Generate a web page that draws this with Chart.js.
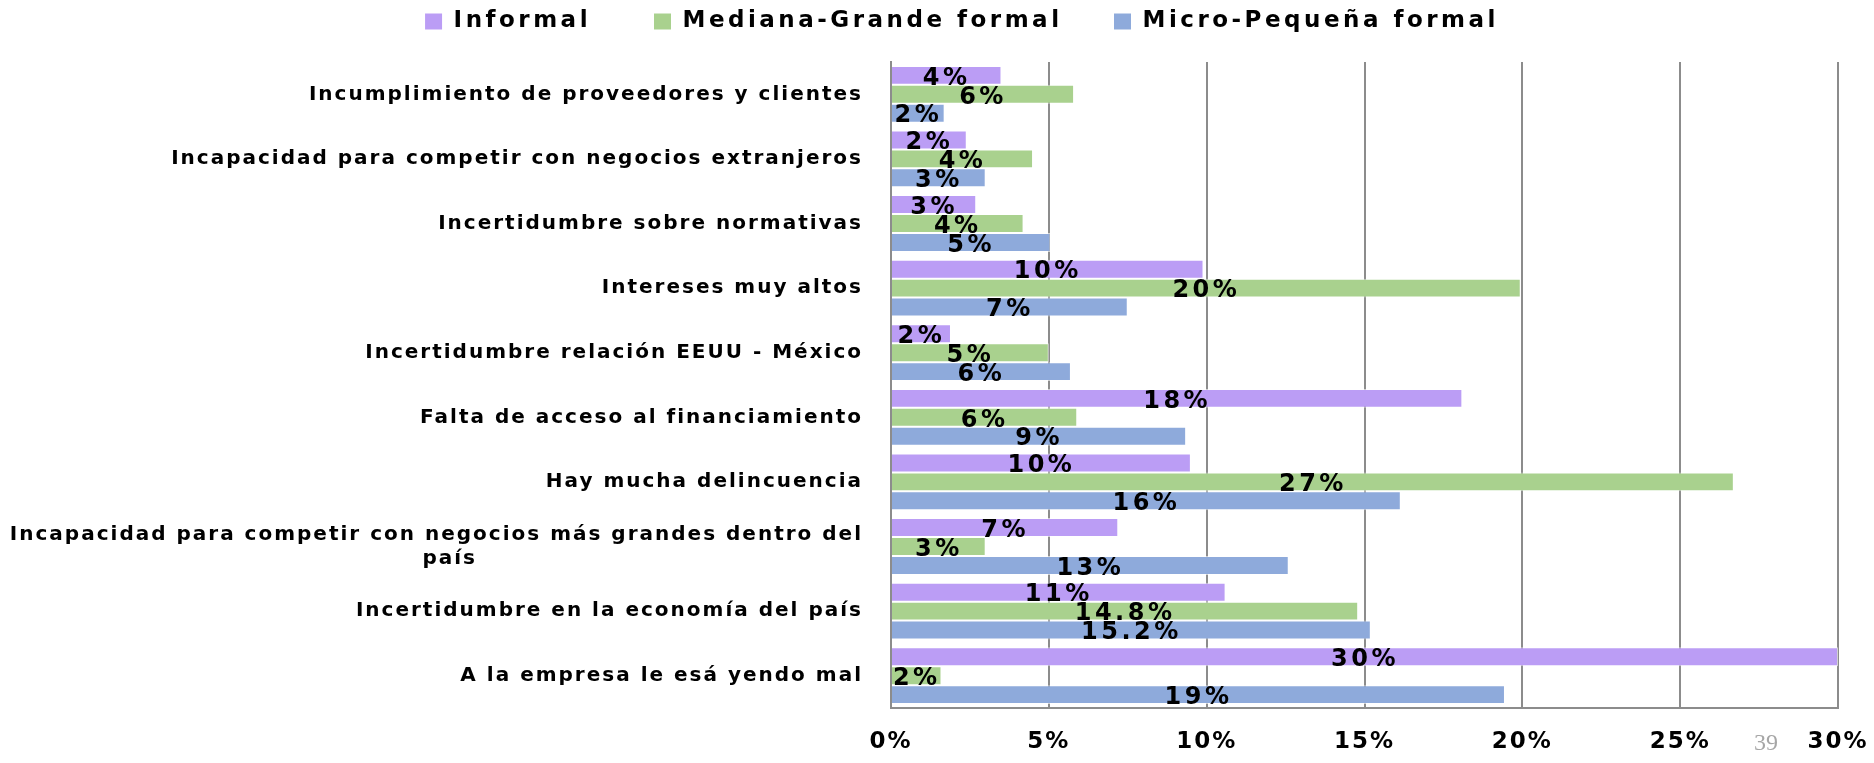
<!DOCTYPE html>
<html lang="es">
<head>
<meta charset="utf-8">
<title>Problemas de las empresas</title>
<script src="https://cdn.jsdelivr.net/npm/chart.js@4.4.1/dist/chart.umd.min.js"></script>
<style>
  html, body { margin: 0; padding: 0; background: #fff; }
  #contenedor { position: relative; width: 1874px; height: 763px; }
  #pagina { position: absolute; left: 1754px; top: 730px; font: 24px 'Liberation Serif', serif; color: #a6a6a6; line-height: 24px; }
</style>
</head>
<body>
<div id="contenedor">
  <canvas id="grafica" width="1874" height="763"></canvas>
  <div id="pagina">39</div>
</div>
<script>
// Categorías (de arriba hacia abajo)
const categorias = [
    'Incumplimiento de proveedores y clientes',
    'Incapacidad para competir con negocios extranjeros',
    'Incertidumbre sobre normativas',
    'Intereses muy altos',
    'Incertidumbre relación EEUU - México',
    'Falta de acceso al financiamiento',
    'Hay mucha delincuencia',
    ['Incapacidad para competir con negocios más grandes dentro del', 'país' + '\u2003'.repeat(17) + '\u2002'],
    'Incertidumbre en la economía del país',
    'A la empresa le esá yendo mal'
];

// Valores (%)
const informal = [3.5, 2.4, 2.7, 9.9, 1.9, 18.1, 9.5, 7.2, 10.6, 30];
const medianaGrande = [5.8, 4.5, 4.2, 19.95, 5.0, 5.9, 26.7, 3.0, 14.8, 1.6];
const microPequena = [1.7, 3.0, 5.05, 7.5, 5.7, 9.35, 16.15, 12.6, 15.2, 19.45];

// Etiquetas que muestra cada barra
const etiquetasInformal = ['4%', '2%', '3%', '10%', '2%', '18%', '10%', '7%', '11%', '30%'];
const etiquetasMediana = ['6%', '4%', '4%', '20%', '5%', '6%', '27%', '3%', '14.8%', '2%'];
const etiquetasMicro = ['2%', '3%', '5%', '7%', '6%', '9%', '16%', '13%', '15.2%', '19%'];

// Marcas del eje x
const ticksX = [0, 5, 10, 15, 20, 25, 30];

const fuente = 'DejaVu Sans';
const espaciadoLetras = '2px';

// Espaciado entre letras (el original usa un texto muy ancho)
const espaciado = {
    id: 'espaciado',
    beforeUpdate(chart) { chart.ctx.letterSpacing = espaciadoLetras; },
    beforeLayout(chart) { chart.ctx.letterSpacing = espaciadoLetras; },
    beforeDraw(chart) { chart.ctx.letterSpacing = espaciadoLetras; }
};

// Leyenda: más espacio entre letras, altura fija y un poco desplazada a la derecha
const ajusteLeyenda = {
    id: 'ajusteLeyenda',
    beforeInit(chart) {
        const leyenda = chart.legend;
        const fitOriginal = leyenda.fit;
        const drawOriginal = leyenda.draw;
        leyenda.fit = function() {
            const c = this.ctx;
            const antes = c.letterSpacing;
            c.letterSpacing = '3.5px';
            fitOriginal.apply(this, arguments);
            c.letterSpacing = antes;
            this.height = 62;
        };
        leyenda.draw = function() {
            const c = this.ctx;
            const antes = c.letterSpacing;
            const izq = this.left;
            c.letterSpacing = '3.5px';
            this.left = izq + 86;
            drawOriginal.apply(this, arguments);
            this.left = izq;
            c.letterSpacing = antes;
        };
    }
};

// Etiquetas de datos centradas en cada barra
const etiquetasBarras = {
    id: 'etiquetasBarras',
    afterDatasetsDraw(chart) {
        const ctx = chart.ctx;
        ctx.save();
        ctx.letterSpacing = '3.5px';
        ctx.font = 'bold 24px "' + fuente + '"';
        ctx.fillStyle = '#000';
        ctx.textAlign = 'center';
        ctx.textBaseline = 'middle';
        chart.data.datasets.forEach((ds, i) => {
            chart.getDatasetMeta(i).data.forEach((bar, j) => {
                const x = (bar.base + bar.x) / 2;
                ctx.fillText(ds.etiquetas[j], x, bar.y + 3);
            });
        });
        ctx.restore();
    }
};

const sufijosLeyenda = ['\u2003\u2003', '\u2003\u2002', ''];

const ctx = document.getElementById('grafica').getContext('2d');
new Chart(ctx, {
    type: 'bar',
    data: {
        labels: categorias,
        datasets: [
            {
                label: 'Informal',
                data: informal,
                etiquetas: etiquetasInformal,
                backgroundColor: '#bb9df5',
                borderColor: 'rgba(255,255,255,0.6)',
                borderWidth: 1
            },
            {
                label: 'Mediana-Grande formal',
                data: medianaGrande,
                etiquetas: etiquetasMediana,
                backgroundColor: '#a9d18e',
                borderColor: 'rgba(255,255,255,0.6)',
                borderWidth: 1
            },
            {
                label: 'Micro-Pequeña formal',
                data: microPequena,
                etiquetas: etiquetasMicro,
                backgroundColor: '#8eaadb',
                borderColor: 'rgba(255,255,255,0.6)',
                borderWidth: 1
            }
        ]
    },
    options: {
        indexAxis: 'y',
        responsive: false,
        animation: false,
        categoryPercentage: 0.88,
        barPercentage: 1.0,
        layout: {
            padding: { left: 0, right: 36, top: 0, bottom: 0 }
        },
        plugins: {
            legend: {
                position: 'top',
                labels: {
                    color: '#000',
                    font: { family: fuente, size: 23, weight: 'bold' },
                    boxWidth: 17,
                    boxHeight: 16,
                    padding: 10,
                    generateLabels(chart) {
                        const items = Chart.defaults.plugins.legend.labels.generateLabels(chart);
                        items.forEach((it, i) => {
                            it.text += sufijosLeyenda[i];
                            it.lineWidth = 0;
                        });
                        return items;
                    }
                }
            },
            tooltip: { enabled: false }
        },
        scales: {
            x: {
                min: 0,
                max: 30,
                afterBuildTicks(scale) {
                    scale.ticks = ticksX.map(v => ({ value: v }));
                },
                afterFit(scale) {
                    scale.height = 55;
                    scale.paddingRight = 36;
                },
                ticks: {
                    color: '#000',
                    font: { family: fuente, size: 23, weight: 'bold' },
                    padding: 20,
                    maxRotation: 0,
                    callback: v => v + '%'
                },
                grid: { color: '#8c8c8c', lineWidth: 2, drawTicks: false },
                border: { color: '#8c8c8c', width: 2 }
            },
            y: {
                afterFit(scale) {
                    scale.width = 891;
                    scale.paddingTop = 0;
                    scale.paddingBottom = 0;
                },
                ticks: {
                    color: '#000',
                    font: { family: fuente, size: 20, weight: 'bold' },
                    padding: 28
                },
                grid: { display: false, drawTicks: false },
                border: { color: '#8c8c8c', width: 2 }
            }
        }
    },
    plugins: [espaciado, ajusteLeyenda, etiquetasBarras]
});
</script>
</body>
</html>
